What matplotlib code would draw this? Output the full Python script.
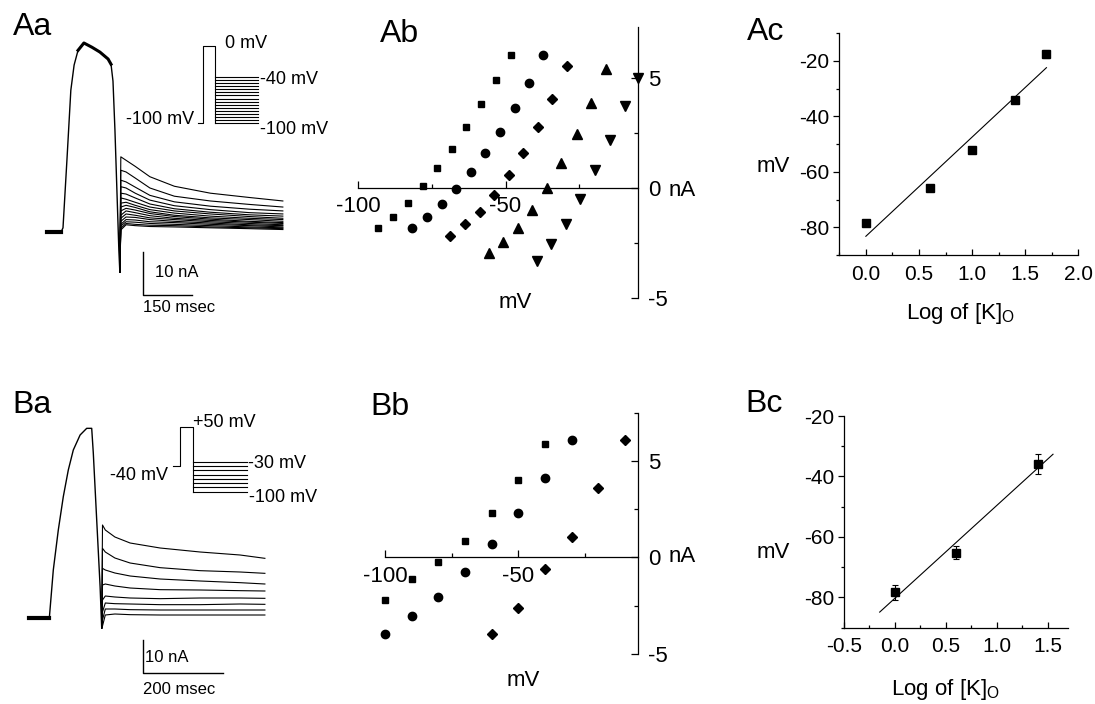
import numpy as np
import matplotlib
matplotlib.use("Agg")
import matplotlib.pyplot as plt
from matplotlib.ticker import MultipleLocator

plt.rcParams['font.family'] = ['Liberation Sans', 'DejaVu Sans']
plt.rcParams['mathtext.fontset'] = 'custom'
plt.rcParams['mathtext.rm'] = 'Liberation Sans'
plt.rcParams['axes.unicode_minus'] = False

# ---------------- Aa: current traces (ms, nA) ----------------
aa_pulse_t = [0, 43, 49, 61, 73, 83, 95, 113, 138, 162, 187, 196, 202, 208, 214, 220, 223]
aa_pulse_i = [0, 0, 1.0, 16.6, 32.8, 38.6, 42.0, 43.7, 42.7, 41.6, 40.0, 38.8, 34.9, 23.6, 9.7, -4.2, -9.2]
aa_tail_t = [226, 242, 270, 315, 390, 500, 620, 722]
aa_tails = [
    [17.4, 16.6, 15.2, 12.8, 10.6, 9.0, 8.0, 7.2],
    [14.3, 13.9, 12.5, 10.2, 8.3, 7.2, 6.4, 5.8],
    [12.0, 11.6, 10.4, 8.5, 7.0, 6.0, 5.3, 4.9],
    [10.5, 10.2, 9.0, 7.4, 6.1, 5.2, 4.5, 4.2],
    [9.0, 8.8, 7.9, 6.5, 5.4, 4.6, 4.0, 3.7],
    [7.9, 7.6, 6.9, 5.8, 4.9, 4.2, 3.6, 3.2],
    [6.7, 6.9, 6.2, 5.2, 4.4, 3.7, 3.2, 2.9],
    [5.8, 6.2, 5.7, 4.7, 3.9, 3.3, 2.9, 2.5],
    [4.9, 5.5, 5.1, 4.3, 3.6, 3.0, 2.5, 2.2],
    [3.9, 4.9, 4.5, 3.8, 3.2, 2.7, 2.3, 2.0],
    [3.2, 4.2, 3.9, 3.3, 2.9, 2.4, 2.0, 1.7],
    [2.5, 3.5, 3.4, 2.9, 2.5, 2.1, 1.7, 1.5],
    [1.8, 2.9, 2.8, 2.4, 2.2, 1.8, 1.5, 1.2],
    [1.4, 2.4, 2.3, 2.0, 1.8, 1.5, 1.2, 1.0],
    [0.9, 2.0, 1.8, 1.6, 1.5, 1.2, 1.0, 0.8],
    [0.5, 1.7, 1.5, 1.3, 1.2, 1.0, 0.8, 0.6],
]
# voltage protocol: holding, prepulse, test steps (mV) and segment times (ms)
aa_hold_mv = -100
aa_pre_mv = 0
aa_steps_mv = [-40, -44, -48, -52, -56, -60, -64, -68, -72, -76, -80, -84, -88, -92, -96, -100]
aa_proto_t = [0, 20, 67, 240]

# ---------------- Ba ----------------
ba_pulse_t = [0, 50, 60, 72.5, 85, 97.5, 110, 127, 143.5, 156, 160, 168.5, 177, 181]
ba_pulse_i = [0, 0, 14.5, 26.5, 36.5, 44.5, 50.5, 55, 57, 57, 49.6, 29.5, 9.5, -2.9]
ba_tail_t = [183, 190, 214, 252, 327, 427, 527, 589]
ba_tails = [
    [28.0, 26.5, 24.4, 22.6, 21.1, 19.9, 19.0, 18.0],
    [21.0, 19.9, 18.1, 16.6, 15.2, 14.3, 13.9, 13.5],
    [15.0, 14.5, 13.6, 12.7, 11.8, 11.2, 10.7, 10.3],
    [10.0, 10.3, 9.7, 9.1, 8.6, 8.5, 8.3, 8.2],
    [5.5, 6.7, 6.4, 6.1, 5.9, 6.1, 6.1, 6.0],
    [1.9, 4.6, 4.4, 4.3, 4.1, 4.1, 4.3, 4.2],
    [-0.5, 2.8, 2.8, 2.6, 2.5, 2.5, 2.5, 2.5],
    [-2.3, 1.0, 1.3, 1.1, 1.0, 1.0, 1.0, 1.0],
]
ba_hold_mv = -40
ba_pre_mv = 50
ba_steps_mv = [-30, -40, -50, -60, -70, -80, -90, -100]
ba_proto_t = [0, 27, 80, 294]

# ---------------- Ab: I-V relations ----------------
ab_sq_v = [-93.2, -88.3, -83.2, -78.1, -73.3, -68.2, -63.4, -58.3, -53.4, -48.3]
ab_sq_i = [-1.83, -1.32, -0.67, 0.07, 0.88, 1.77, 2.78, 3.82, 4.91, 6.05]
ab_ci_v = [-81.8, -76.7, -71.6, -66.7, -61.8, -56.9, -51.8, -46.9, -41.9, -37.2]
ab_ci_i = [-1.84, -1.33, -0.73, -0.06, 0.72, 1.59, 2.54, 3.61, 4.77, 6.01]
ab_di_v = [-68.7, -63.7, -58.7, -54.0, -48.9, -44.0, -39.0, -34.1, -29.0]
ab_di_i = [-2.19, -1.65, -1.11, -0.34, 0.57, 1.56, 2.76, 4.02, 5.51]
ab_tu_v = [-55.6, -50.8, -45.8, -40.9, -35.8, -31.0, -25.8, -20.8, -15.8]
ab_tu_i = [-2.94, -2.46, -1.83, -0.99, 0.00, 1.13, 2.44, 3.83, 5.41]
ab_td_v = [-39.4, -34.7, -29.5, -24.7, -19.5, -14.4, -9.4, -5.0]
ab_td_i = [-3.30, -2.56, -1.62, -0.51, 0.79, 2.15, 3.71, 5.00]

# ---------------- Bb ----------------
bb_sq_v = [-100, -90, -80, -70, -60, -50, -40]
bb_sq_i = [-2.18, -1.14, -0.26, 0.87, 2.28, 4.00, 5.87]
bb_ci_v = [-100, -90, -80, -70, -60, -50, -40, -30]
bb_ci_i = [-3.94, -3.05, -2.04, -0.74, 0.69, 2.28, 4.10, 6.09]
bb_di_v = [-60, -50, -40, -30, -20, -10]
bb_di_i = [-3.94, -2.63, -0.62, 1.07, 3.58, 6.09]

# ---------------- Ac / Bc: reversal potential vs log [K]o ----------------
ac_logk = [0.0, 0.6, 1.0, 1.4, 1.7]
ac_mv = [-78.5, -66.0, -52.1, -34.1, -17.6]
ac_err = [1.0, 0.8, 0.8, 1.2, 1.5]
ac_fit_range = [0.0, 1.7]

bc_logk = [0.0, 0.6, 1.4]
bc_mv = [-78.3, -65.2, -35.8]
bc_err = [2.4, 2.2, 3.3]
bc_fit_range = [-0.15, 1.55]

W, H = 1095, 704
fig = plt.figure(figsize=(W / 100, H / 100), dpi=100)


def box(x0, y0, x1, y1):
    # axes placed by pixel corners, y counted from the top
    return fig.add_axes([x0 / W, 1 - y1 / H, (x1 - x0) / W, (y1 - y0) / H])


def label(x, y, s, size=12, **kw):
    kw.setdefault('va', 'center')
    fig.text(x / W, 1 - y / H, s, fontsize=size, **kw)


def traces(ax, pulse_t, pulse_i, tail_t, tails, bar_t, bar_i, bar_ms, bar_na):
    ax.plot(pulse_t, pulse_i, color='k', lw=1.0)
    ax.plot(pulse_t[:2], pulse_i[:2], color='k', lw=3)
    for row in tails:
        ax.plot([pulse_t[-1]] + tail_t, [pulse_i[-1]] + row, color='k', lw=0.8)
    ax.plot([bar_t, bar_t, bar_t + bar_ms], [bar_i + bar_na, bar_i, bar_i], color='k', lw=1)
    ax.axis('off')


def protocol(ax, t, hold, pre, steps):
    ax.plot([t[0], t[1], t[1], t[2], t[2]], [hold, hold, pre, pre, min(steps)], color='k', lw=0.8)
    for v in steps:
        ax.plot([t[2], t[3]], [v, v], color='k', lw=0.8)
    ax.axis('off')


# Aa
aa = box(40, 30, 300, 320)
aa.set_xlim(-21.4, 774.5)
aa.set_ylim(-20.3, 46.7)
traces(aa, aa_pulse_t, aa_pulse_i, aa_tail_t, aa_tails, 293, -14.6, 150, 10)
aa.plot(aa_pulse_t[6:12], aa_pulse_i[6:12], color='k', lw=2.2)
aa_in = box(195, 40, 265, 130)
aa_in.set_xlim(-13.2, 266.8)
aa_in.set_ylim(-108.7, 7.9)
protocol(aa_in, aa_proto_t, aa_hold_mv, aa_pre_mv, aa_steps_mv)
label(225, 44, '0 mV', 13)
label(260, 80, '-40 mV', 13)
label(260, 129, '-100 mV', 13)
label(194, 119, '-100 mV', 13, ha='right')
label(155, 273, '10 nA', 12)
label(143, 308, '150 msec', 12)

# Ba
ba = box(20, 410, 290, 700)
ba.set_xlim(-23.25, 651.75)
ba.set_ylim(-24.5, 62.5)
traces(ba, ba_pulse_t, ba_pulse_i, ba_tail_t, ba_tails, 283.5, -16.5, 200, 10)
ba_in = box(170, 420, 250, 500)
ba_in.set_xlim(-13.2, 306.8)
ba_in.set_ylim(-119.5, 67.2)
protocol(ba_in, ba_proto_t, ba_hold_mv, ba_pre_mv, ba_steps_mv)
label(193, 422, '+50 mV', 13)
label(168, 475, '-40 mV', 13, ha='right')
label(248, 463, '-30 mV', 13)
label(249, 497, '-100 mV', 13)
label(145, 657, '10 nA', 12)
label(143, 690, '200 msec', 12)


def iv_axes(ax, ylim):
    ax.set_xlim(-100, -5)
    ax.set_ylim(*ylim)
    ax.spines['left'].set_visible(False)
    ax.spines['top'].set_visible(False)
    ax.spines['bottom'].set_position(('data', 0))
    ax.yaxis.tick_right()
    ax.set_xticks([-100, -50])
    ax.xaxis.set_minor_locator(MultipleLocator(25))
    ax.set_yticks([-5, 0, 5])
    ax.yaxis.set_minor_locator(MultipleLocator(2.5))
    ax.tick_params(which='major', direction='in', length=5, width=0.9, labelsize=16)
    ax.tick_params(which='minor', direction='in', length=3, width=0.9)
    ax.tick_params(axis='x', pad=6)
    ax.tick_params(axis='y', pad=7)
    for s in ax.spines.values():
        s.set_linewidth(0.9)
    ax.patch.set_visible(False)


mk = dict(color='k', ls='none', clip_on=False)

# Ab
ab = box(358.3, 27, 638, 298)
iv_axes(ab, (-5, 7.3))
ab.plot(ab_sq_v, ab_sq_i, 's', ms=5, **mk)
ab.plot(ab_ci_v, ab_ci_i, 'o', ms=6, **mk)
ab.plot(ab_di_v, ab_di_i, 'D', ms=5, **mk)
ab.plot(ab_tu_v, ab_tu_i, '^', ms=6.5, **mk)
ab.plot(ab_td_v, ab_td_i, 'v', ms=6.5, **mk)
label(669, 190, 'nA', 16)
label(515, 303, 'mV', 16, ha='center')

# Bb
bb = box(385, 412.5, 638.3, 654)
iv_axes(bb, (-5, 7.5))
bb.plot(bb_sq_v, bb_sq_i, 's', ms=5, **mk)
bb.plot(bb_ci_v, bb_ci_i, 'o', ms=6, **mk)
bb.plot(bb_di_v, bb_di_i, 'D', ms=5, **mk)
label(669, 557, 'nA', 16)
label(523, 680, 'mV', 16, ha='center')


def nernst_axes(ax, xlim, ylim, xmajor):
    ax.set_xlim(*xlim)
    ax.set_ylim(*ylim)
    ax.spines['top'].set_visible(False)
    ax.spines['right'].set_visible(False)
    for s in ax.spines.values():
        s.set_linewidth(0.9)
    ax.xaxis.set_major_locator(MultipleLocator(xmajor))
    ax.xaxis.set_minor_locator(MultipleLocator(0.25))
    ax.yaxis.set_major_locator(MultipleLocator(20))
    ax.yaxis.set_minor_locator(MultipleLocator(10))
    ax.xaxis.set_major_formatter(matplotlib.ticker.FormatStrFormatter('%.1f'))
    ax.tick_params(axis='x', which='major', direction='in', length=4, width=0.9, pad=7, labelsize=15)
    ax.tick_params(axis='x', which='minor', direction='in', length=2.5, width=0.9)
    ax.tick_params(axis='y', which='major', direction='out', length=4, width=0.9, pad=3, labelsize=15)
    ax.tick_params(axis='y', which='minor', direction='out', length=2.5, width=0.9)
    ax.patch.set_visible(False)


def nernst_plot(ax, x, y, err, fit_range):
    ax.errorbar(x, y, yerr=err, fmt='s', color='k', ms=5.5, capsize=2,
                elinewidth=0.8, capthick=0.8, clip_on=False)
    coef = np.polyfit(x, y, 1)
    xs = np.array(fit_range)
    ax.plot(xs, np.polyval(coef, xs), color='k', lw=0.8)


# Ac
ac = box(839.3, 33, 1078.3, 255)
nernst_axes(ac, (-0.25, 2.0), (-90, -10), 0.5)
ac.set_xticks([0.0, 0.5, 1.0, 1.5, 2.0])
ac.set_yticks([-80, -60, -40, -20])
nernst_plot(ac, ac_logk, ac_mv, ac_err, ac_fit_range)
label(773, 167, 'mV', 16, ha='center')
label(960, 314, 'Log of [K]$_\\mathregular{O}$', 16, ha='center')

# Bc
bc = box(844, 416, 1068.3, 627.7)
nernst_axes(bc, (-0.5, 1.7), (-90, -20), 0.5)
bc.set_xticks([-0.5, 0.0, 0.5, 1.0, 1.5])
bc.set_yticks([-80, -60, -40, -20])
nernst_plot(bc, bc_logk, bc_mv, bc_err, bc_fit_range)
label(773, 552, 'mV', 16, ha='center')
label(945, 690, 'Log of [K]$_\\mathregular{O}$', 16, ha='center')

# panel letters
for x, y, s in [(13, 35, 'Aa'), (380, 42, 'Ab'), (747, 40, 'Ac'),
                (12, 413, 'Ba'), (370, 415, 'Bb'), (745, 412, 'Bc')]:
    label(x, y, s, 23, va='baseline')

fig.savefig('out.png', dpi=100, facecolor='white')
